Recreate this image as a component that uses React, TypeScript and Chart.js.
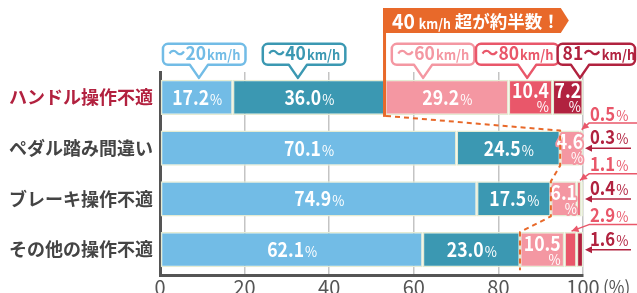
import React, { useEffect, useRef } from "react";
import { Chart, registerables } from "chart.js";
Chart.register(...registerables);

const categories = ["ハンドル操作不適", "ペダル踏み間違い", "ブレーキ操作不適", "その他の操作不適"];
const bandLabels = ["～20", "～40", "～60", "～80", "81～"];
const bandUnit = "km/h";
const upTo20 = [17.2, 70.1, 74.9, 62.1];
const upTo40 = [36.0, 24.5, 17.5, 23.0];
const upTo60 = [29.2, 4.6, 6.1, 10.5];
const upTo80 = [10.4, 0.5, 1.1, 2.9];
const over80 = [7.2, 0.3, 0.4, 1.6];
const xTicks = [0, 20, 40, 60, 80, 100];
const bannerSpeed = "40";
const bannerUnit = "km/h";
const bannerText = "超が約半数！";
const axisUnit = "(%)";

const series = [upTo20, upTo40, upTo60, upTo80, over80];

const FONT = '"Noto Sans CJK JP", "Noto Sans", sans-serif';
const COLORS = ["#72bce6", "#3b98b2", "#f497a2", "#e9576a", "#b1223f"];
const ORANGE = "#e8692a";
const SX = 0.88; // horizontal squeeze for numerals
// callout box left edge and tail position, in axis units
const CALLOUT_LAYOUT = [
  { left: 0.7, tail: 9.2 },
  { left: 24.3, tail: 32.6 },
  { left: 54.8, tail: 62.2 },
  { left: 74.7, tail: 86.8 },
  { left: 94.0, tail: 99.3 },
];

function calloutPath(ctx: any, l: number, t: number, r: number, b: number, tx: number, tipY: number, rad: number, hw: number) {
  ctx.beginPath();
  ctx.moveTo(l + rad, t);
  ctx.lineTo(r - rad, t);
  ctx.arcTo(r, t, r, t + rad, rad);
  ctx.lineTo(r, b - rad);
  ctx.arcTo(r, b, r - rad, b, rad);
  ctx.lineTo(tx + hw, b);
  ctx.lineTo(tx, tipY);
  ctx.lineTo(tx - hw, b);
  ctx.lineTo(l + rad, b);
  ctx.arcTo(l, b, l, b - rad, rad);
  ctx.lineTo(l, t + rad);
  ctx.arcTo(l, t, l + rad, t, rad);
  ctx.closePath();
}

function arrowHead(ctx: any, fx: number, fy: number, tx: number, ty: number, len: number, hw: number) {
  const a = Math.atan2(ty - fy, tx - fx);
  const c = Math.cos(a), s = Math.sin(a);
  ctx.beginPath();
  ctx.moveTo(tx, ty);
  ctx.lineTo(tx - len * c + hw * s, ty - len * s - hw * c);
  ctx.lineTo(tx - len * c - hw * s, ty - len * s + hw * c);
  ctx.closePath();
  ctx.fill();
}

function measure(ctx: any, text: string, font: string, sx = SX) {
  ctx.font = font;
  return ctx.measureText(text).width * sx;
}

function drawText(ctx: any, text: string, font: string, x: number, y: number, sx = SX, stroke = false) {
  ctx.save();
  ctx.font = font;
  ctx.translate(x, y);
  ctx.scale(sx, 1);
  if (stroke) ctx.strokeText(text, 0, 0);
  ctx.fillText(text, 0, 0);
  ctx.restore();
}

const overlayPlugin = {
  id: "overlay",
  afterDraw(chart: any) {
    const ctx = chart.ctx;
    const ca = chart.chartArea;
    const xs = chart.scales.x;
    const W = chart.width;
    const px = (v: number) => xs.getPixelForValue(v);
    const el = (di: number, j: number) =>
      chart.getDatasetMeta(di).data[j].getProps(["x", "y", "base", "height"], true);
    const rowTop = (j: number) => { const e = el(0, j); return e.y - e.height / 2; };
    const rowBot = (j: number) => { const e = el(0, j); return e.y + e.height / 2; };
    const rowMid = (j: number) => el(0, j).y;

    ctx.save();
    ctx.textAlign = "left";
    ctx.textBaseline = "alphabetic";

    // in-bar labels
    const nf = `bold 20px ${FONT}`;
    const pf = `15px ${FONT}`;
    series.forEach((vals, di) => {
      vals.forEach((v, j) => {
        if (v < 3) return;
        const e = el(di, j);
        const l = Math.min(e.x, e.base), r = Math.max(e.x, e.base);
        const w = r - l, cx = (l + r) / 2, cy = e.y;
        const num = v.toFixed(1);
        const wn = measure(ctx, num, nf);
        const wp = measure(ctx, "%", pf);
        ctx.fillStyle = "#fff";
        if (wn + wp + 8 <= w) {
          const sx = cx - (wn + wp) / 2;
          drawText(ctx, num, nf, sx, cy + 7.5);
          drawText(ctx, "%", pf, sx + wn + 1, cy + 7.5);
        } else {
          const outline = wn > w - 2;
          const nx = cx - wn / 2, ny = cy + 1;
          ctx.lineJoin = "round";
          ctx.strokeStyle = COLORS[di];
          ctx.lineWidth = 4;
          drawText(ctx, num, nf, nx, ny, SX, outline);
          drawText(ctx, "%", pf, nx + wn - wp, cy + 15, SX, outline);
        }
      });
    });

    // speed band callouts
    const bigF = `bold 19px ${FONT}`, unitF = `bold 14px ${FONT}`;
    const tipY = rowTop(0) - 2, boxB = tipY - 13, boxT = boxB - 21;
    CALLOUT_LAYOUT.forEach((c, i) => {
      const wb = measure(ctx, bandLabels[i], bigF, 0.92);
      const wu = measure(ctx, bandUnit, unitF, 0.92);
      const l = px(c.left), r = Math.min(l + wb + wu + 11, W - 2), tx = px(c.tail);
      calloutPath(ctx, l, boxT, r, boxB, tx, tipY, 5, 9);
      ctx.fillStyle = "#fff"; ctx.fill();
      ctx.strokeStyle = COLORS[i]; ctx.lineWidth = 2.5; ctx.stroke();
      ctx.fillStyle = COLORS[i];
      drawText(ctx, bandLabels[i], bigF, l + 5, boxB - 5, 0.92);
      drawText(ctx, bandUnit, unitF, l + 5 + wb + 1, boxB - 5, 0.92);
    });

    // orange banner
    const bl = px(upTo20[0] + upTo40[0]) - 2;
    const bT = 8, bB = 33;
    const f40 = `bold 21px ${FONT}`, fU = `bold 14px ${FONT}`, fT = `bold 17.5px ${FONT}`;
    const w40 = measure(ctx, bannerSpeed, f40, 0.92);
    const wU = measure(ctx, bannerUnit, fU, 0.88);
    const wT = measure(ctx, bannerText, fT, 1);
    const br = bl + 9 + w40 + 4 + wU + 4 + wT + 1;
    ctx.fillStyle = ORANGE;
    ctx.beginPath();
    ctx.moveTo(bl, bT); ctx.lineTo(br, bT); ctx.lineTo(br + 8, (bT + bB) / 2);
    ctx.lineTo(br, bB); ctx.lineTo(bl, bB); ctx.closePath(); ctx.fill();
    ctx.fillRect(bl, bT, 3, rowBot(0) + 2 - bT);
    ctx.fillStyle = "#fff";
    let tx = bl + 9;
    drawText(ctx, bannerSpeed, f40, tx, bB - 4, 0.92); tx += w40 + 4;
    drawText(ctx, bannerUnit, fU, tx, bB - 4, 0.88); tx += wU + 4;
    drawText(ctx, bannerText, fT, tx, bB - 5, 1);

    // dashed guide line
    ctx.setLineDash([5, 4]);
    ctx.strokeStyle = ORANGE;
    ctx.lineWidth = 2;
    ctx.beginPath();
    ctx.moveTo(bl + 3, rowBot(0) + 1);
    for (let j = 1; j < categories.length; j++) {
      const xj = px(upTo20[j] + upTo40[j]);
      ctx.lineTo(xj, rowTop(j));
      ctx.lineTo(xj, j === categories.length - 1 ? rowBot(j) + 3 : rowBot(j));
    }
    ctx.stroke();
    ctx.setLineDash([]);

    // right-side small value labels
    const rnf = `bold 19px ${FONT}`, rpf = `15px ${FONT}`;
    const tx0 = ca.right + 7;
    const drawVal = (v: number, x: number, y: number, color: string) => {
      const s = v.toFixed(1);
      ctx.fillStyle = color;
      const ws = measure(ctx, s, rnf);
      drawText(ctx, s, rnf, x, y);
      drawText(ctx, "%", rpf, x + ws + 1, y);
    };
    ctx.lineWidth = 1.5;
    for (let j = 1; j < categories.length; j++) {
      const top = rowTop(j);
      const e3 = el(3, j);
      const segC = (e3.x + e3.base) / 2;
      drawVal(upTo80[j], tx0, top - 10, COLORS[3]);
      const uy = top - 7.5;
      ctx.strokeStyle = COLORS[3]; ctx.fillStyle = COLORS[3];
      ctx.beginPath();
      ctx.moveTo(W, uy); ctx.lineTo(ca.right + 6, uy); ctx.lineTo(segC + 1, top - 1);
      ctx.stroke();
      arrowHead(ctx, ca.right + 6, uy, segC + 1, top - 1, 7, 3.5);

      const mid = rowMid(j);
      drawVal(over80[j], tx0, mid - 4, COLORS[4]);
      ctx.strokeStyle = COLORS[4]; ctx.fillStyle = COLORS[4];
      ctx.beginPath();
      ctx.moveTo(W - 6, mid); ctx.lineTo(ca.right + 6, mid);
      ctx.stroke();
      arrowHead(ctx, W - 6, mid, ca.right + 2, mid, 7, 3.5);
    }

    // axis unit
    ctx.fillStyle = "#555";
    ctx.textBaseline = "middle";
    drawText(ctx, axisUnit, `18px ${FONT}`, ca.right + 20, xs.top + 12, 0.95);
    ctx.restore();
  },
};

export default function App() {
  const ref = useRef<HTMLCanvasElement | null>(null);
  useEffect(() => {
    document.body.style.margin = "0";
    const canvas = ref.current!;
    const chart = new Chart(canvas, {
      type: "bar",
      data: {
        labels: categories,
        datasets: series.map((d, i) => ({
          label: bandLabels[i] + bandUnit,
          data: d,
          backgroundColor: COLORS[i],
          borderColor: "#e4ebd3",
          borderWidth: 1.5,
          borderSkipped: false,
          barPercentage: 0.69,
          categoryPercentage: 1,
        })),
      },
      options: {
        indexAxis: "y",
        responsive: false,
        animation: false,
        devicePixelRatio: 1,
        layout: { padding: { top: 72, right: 54, left: 0, bottom: 0 } },
        plugins: { legend: { display: false }, tooltip: { enabled: false } },
        scales: {
          x: {
            stacked: true,
            min: 0,
            max: 100,
            afterFit: (s: any) => { s.height = 18; },
            afterBuildTicks: (s: any) => { s.ticks = xTicks.map((v) => ({ value: v })); },
            grid: { color: "#c4c4c4", lineWidth: 1.5, drawTicks: false },
            border: { color: "#555", width: 3 },
            ticks: { padding: 0, color: "#555", font: { family: FONT, size: 20 } },
          },
          y: {
            stacked: true,
            z: 1,
            afterFit: (s: any) => { s.width = 160; },
            grid: { drawOnChartArea: false, drawTicks: false },
            border: { color: "#555", width: 3 },
            ticks: {
              padding: 7,
              font: { family: FONT, size: 18, weight: "bold" },
              color: (c: any) => (c.index === 0 ? "#b2213f" : "#444"),
            },
          },
        },
      },
      plugins: [overlayPlugin],
    } as any);
    return () => chart.destroy();
  }, []);
  return (
    <div style={{ width: 637, height: 293 }}>
      <canvas ref={ref} width={637} height={293} />
    </div>
  );
}
